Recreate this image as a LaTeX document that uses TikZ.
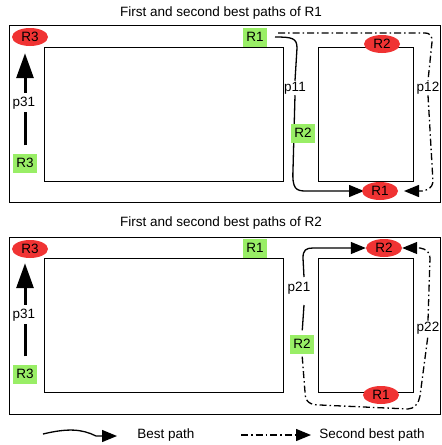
\documentclass[tikz,border=0pt]{standalone}
\usepackage{fontspec}
\setmainfont{Liberation Sans}
\usetikzlibrary{arrows.meta,shapes.geometric}
\definecolor{rred}{HTML}{F03333}
\definecolor{rgreen}{HTML}{99EE66}
\begin{document}
\begin{tikzpicture}[x=1pt,y=-1pt, font=\fontsize{13.5}{15}\selectfont,
 frame/.style={draw, line width=1pt},
 redr/.style={ellipse, fill=rred, minimum width=36pt, minimum height=18pt, inner sep=0pt},
 greenr/.style={rectangle, fill=rgreen, minimum width=24pt, minimum height=19pt, inner sep=0pt},
 lbl/.style={inner sep=1pt},
 bestline/.style={line width=1.3pt},
 secline/.style={line width=1.3pt, dash pattern=on 7pt off 3pt on 1.5pt off 3pt},
 tip/.style={-{Triangle[length=15pt,width=12pt]}},
 bigtip/.style={line width=3pt, -{Triangle[length=25pt,width=17pt]}},
]
\fill[white] (0,0) rectangle (442,445);
\useasboundingbox (0,0) rectangle (442,445);

% ---------- top panel ----------
\node (title1) at (221,13) {First and second best paths of R1};
\draw[frame] (9,25) rectangle (440,202);
\draw[frame] (44,47) rectangle (283,181);
\draw[frame] (318,47) rectangle (413,181);

\node[redr] (r3red1) at (30,37) {R3};
\node[greenr] (r3g1) at (25,163) {R3};
\node[lbl] (p31a) at (24,103) {p31};
\draw[line width=3pt, shorten <=8pt, shorten >=2pt] (r3g1.north) -- (r3g1.north |- p31a.south);
\draw[bigtip, shorten <=3pt, shorten >=7pt] (r3g1 |- p31a.north) -- (r3g1 |- r3red1.south);

\node[lbl] (p11) at (295,88) {p11};
\node[lbl] (p12) at (428,88) {p12};
\draw[bestline, shorten <=8pt] (255,37) ++(12,0) coordinate (r1g1e)
  (r1g1e) .. controls (292,37) and (297,38) .. (297,48) -- (p11.north);
\draw[bestline, tip] (p11.south) -- (293,170) .. controls (292,189) and (296,191) .. (306,191) -- (364,191) coordinate (t11);
\draw[secline] (278,33) -- (424,33) .. controls (431,33) and (432,36) .. (432,42) -- (p12.north);
\draw[secline, tip] (p12.south) -- (433,182) .. controls (432,188) and (428,190) .. (422,191) -- (404,191) coordinate (t12);

\node[greenr] (r1g1) at (255,37) {R1};
\node[redr] (r2red1) at (382,44) {R2};
\node[redr] (r1red1) at (380,191) {R1};
\node[greenr] (r2g1) at (303,133) {R2};

% ---------- bottom panel ----------
\node (title2) at (221,223) {First and second best paths of R2};
\draw[frame] (9,237) rectangle (440,414);
\draw[frame] (44,258) rectangle (283,392);
\draw[frame] (318,258) rectangle (413,392);

\node[redr] (r3red2) at (30,249) {R3};
\node[greenr] (r3g2) at (25,374) {R3};
\node[lbl] (p31b) at (24,315) {p31};
\draw[line width=3pt, shorten <=8pt, shorten >=2pt] (r3g2.north) -- (r3g2.north |- p31b.south);
\draw[bigtip, shorten <=3pt, shorten >=5pt] (r3g2 |- p31b.north) -- (r3g2 |- r3red2.south);

\node[greenr] (r1g2) at (255,248) {R1};
\node[redr] (r2red2) at (384,248) {R2};
\node[redr] (r1red2) at (381,395) {R1};
\node[greenr] (r2g2) at (302,344) {R2};
\node[lbl] (p21) at (299,288) {p21};
\node[lbl] (p22) at (428,328) {p22};

\draw[bestline, shorten <=4pt] (r2g2.north) -- (304,305) coordinate (p21s);
\draw[bestline, tip] (304,277) -- (303,258) .. controls (303,250) and (306,248) .. (313,248) -- (r2red2.west);
\draw[secline, shorten <=3pt] (r2g2.south) -- (305,392) .. controls (305,402) and (310,405) .. (320,405) -- (408,409) .. controls (414,409) and (419,403) .. (420,396) -- (p22.south);
\draw[secline, tip] (p22.north) -- (430,258) .. controls (430,252) and (426,249) .. (420,248) -- (r2red2.east);

% ---------- legend ----------
\coordinate (lgA) at (43,434);
\coordinate (lgB) at (117,436);
\draw[bestline, tip] (lgA) .. controls (68,428) and (82,429) .. (96,436) -- (lgB);
\node (lgbest) at (166,435) {Best path};
\coordinate (lgC) at (241,435);
\coordinate (lgD) at (311,435);
\draw[secline, tip] (lgC) -- (lgD);
\node (lgsec) at (372,435) {Second best path};
\end{tikzpicture}
\end{document}
